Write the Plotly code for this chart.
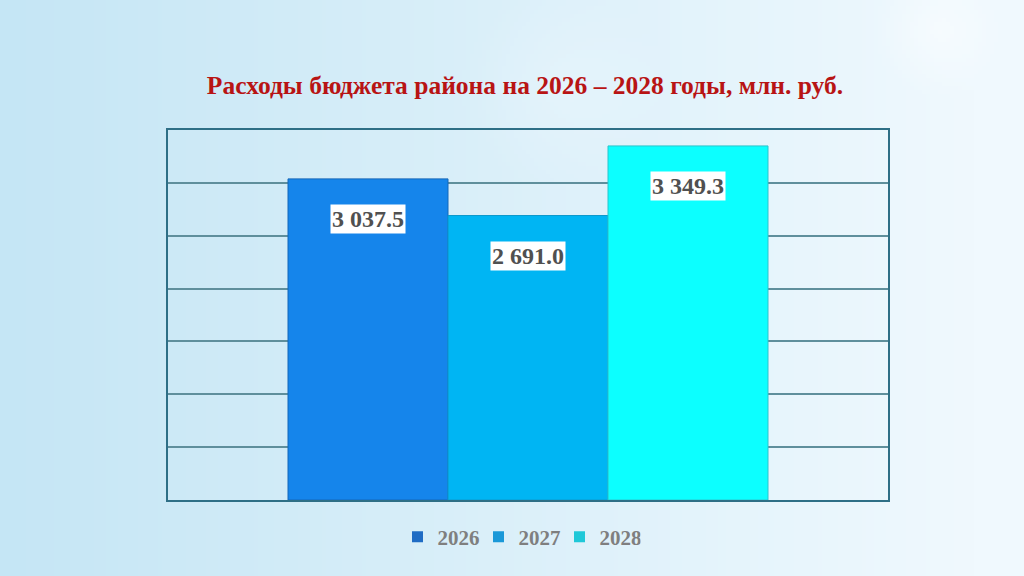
import base64
import struct
import zlib

import numpy as np
import plotly.graph_objects as go

# ---- data ----
years = [2026, 2027, 2028]
year_labels = ["2026", "2027", "2028"]
values = [3037.5, 2691.0, 3349.3]
value_labels = ["3 037.5", "2 691.0", "3 349.3"]
bar_colors = ["#1585EB", "#00B5F3", "#0CFFFF"]
bar_line_colors = ["#1466B8", "#0C98CC", "#2BC4CC"]
legend_colors = ["#1F6CC4", "#1A98D8", "#1FC8D8"]

TITLE = "Расходы бюджета района на 2026 – 2028 годы, млн. руб."

W, H = 1024, 576
L, R, T, B = 168, 136, 130, 76
PW, PH = W - L - R, H - T - B


# ---- soft gradient background as an inline PNG ----
def make_png(arr):
    h, w, _ = arr.shape
    raw = b"".join(b"\x00" + arr[i].tobytes() for i in range(h))

    def chunk(tag, data):
        c = tag + data
        return struct.pack(">I", len(data)) + c + struct.pack(">I", zlib.crc32(c) & 0xFFFFFFFF)

    return (b"\x89PNG\r\n\x1a\n"
            + chunk(b"IHDR", struct.pack(">IIBBBBB", w, h, 8, 2, 0, 0, 0))
            + chunk(b"IDAT", zlib.compress(raw, 9))
            + chunk(b"IEND", b""))


gw, gh = 256, 144
xx, yy = np.meshgrid(np.linspace(0, 1, gw), np.linspace(0, 1, gh))
left = np.array([197, 230, 245], float)
right = np.array([240, 249, 254], float)
t = np.clip(xx * 1.05, 0, 1)[..., None]
img = left * (1 - t) + right * t
# a few soft light blobs
for cx, cy, rad, s in [(0.92, 0.05, 0.12, 0.7), (0.55, 0.15, 0.18, 0.25)]:
    d = np.sqrt(((xx - cx) * 1.78) ** 2 + (yy - cy) ** 2)
    m = np.clip(1 - d / rad, 0, 1)[..., None] * s
    img = img * (1 - m) + np.array([250, 253, 255], float) * m
img = np.clip(img, 0, 255).astype(np.uint8)
bg_uri = "data:image/png;base64," + base64.b64encode(make_png(img)).decode()

fig = go.Figure()

for yr, v, c, lc in zip(years, values, bar_colors, bar_line_colors):
    fig.add_trace(go.Bar(
        x=[yr], y=[v], width=1,
        marker=dict(color=c, line=dict(color=lc, width=1)),
        showlegend=False, hoverinfo="skip",
    ))

for lab, c in zip(year_labels, legend_colors):
    fig.add_trace(go.Scatter(
        x=[None], y=[None], mode="markers", name=f"<b>{lab}</b>",
        marker=dict(symbol="square", size=11, color=c),
    ))

for yr, v, lab in zip(years, values, value_labels):
    fig.add_annotation(
        x=yr, y=v, text=f"<b>{lab}</b>", showarrow=False,
        yshift=-40, yanchor="middle",
        bgcolor="white", borderpad=1,
        font=dict(family="Liberation Serif", size=24, color="#505050"),
    )

fig.add_layout_image(
    source=bg_uri, xref="paper", yref="paper",
    x=-L / PW, y=1 + T / PH, sizex=W / PW, sizey=H / PH,
    xanchor="left", yanchor="top", sizing="stretch", layer="below",
)

fig.update_layout(
    width=W, height=H,
    margin=dict(l=L, r=R, t=T, b=B),
    paper_bgcolor="#dcf0fa",
    plot_bgcolor="rgba(0,0,0,0)",
    barmode="overlay",
    title=dict(
        text=f"<b>{TITLE}</b>",
        x=525 / W, xref="container", xanchor="center",
        y=1 - 85 / H, yref="container", yanchor="middle",
        font=dict(family="Liberation Serif", size=25.5, color="#B81414"),
    ),
    legend=dict(
        orientation="h", x=0.5 - 9 / PW, xanchor="center",
        y=-(537 - 500) / PH, yanchor="middle",
        font=dict(family="Liberation Serif", size=21, color="#7F7F7F"),
        bgcolor="rgba(0,0,0,0)", itemwidth=30,
        entrywidth=36, entrywidthmode="pixels",
    ),
    xaxis=dict(
        range=[2024.75, 2029.25], showticklabels=False, showgrid=False,
        zeroline=False, showline=True, mirror=True,
        linecolor="#2E6F86", linewidth=2, ticks="",
    ),
    yaxis=dict(
        range=[0, 3500], dtick=500, showticklabels=False,
        showgrid=True, gridcolor="#5F8F9C", gridwidth=2,
        zeroline=False, showline=True, mirror=True,
        linecolor="#2E6F86", linewidth=2, ticks="",
    ),
)

fig.write_html(
    "out.html",
    config={"displayModeBar": False},
    post_script="document.body.style.margin='0';document.body.style.padding='0';",
)
